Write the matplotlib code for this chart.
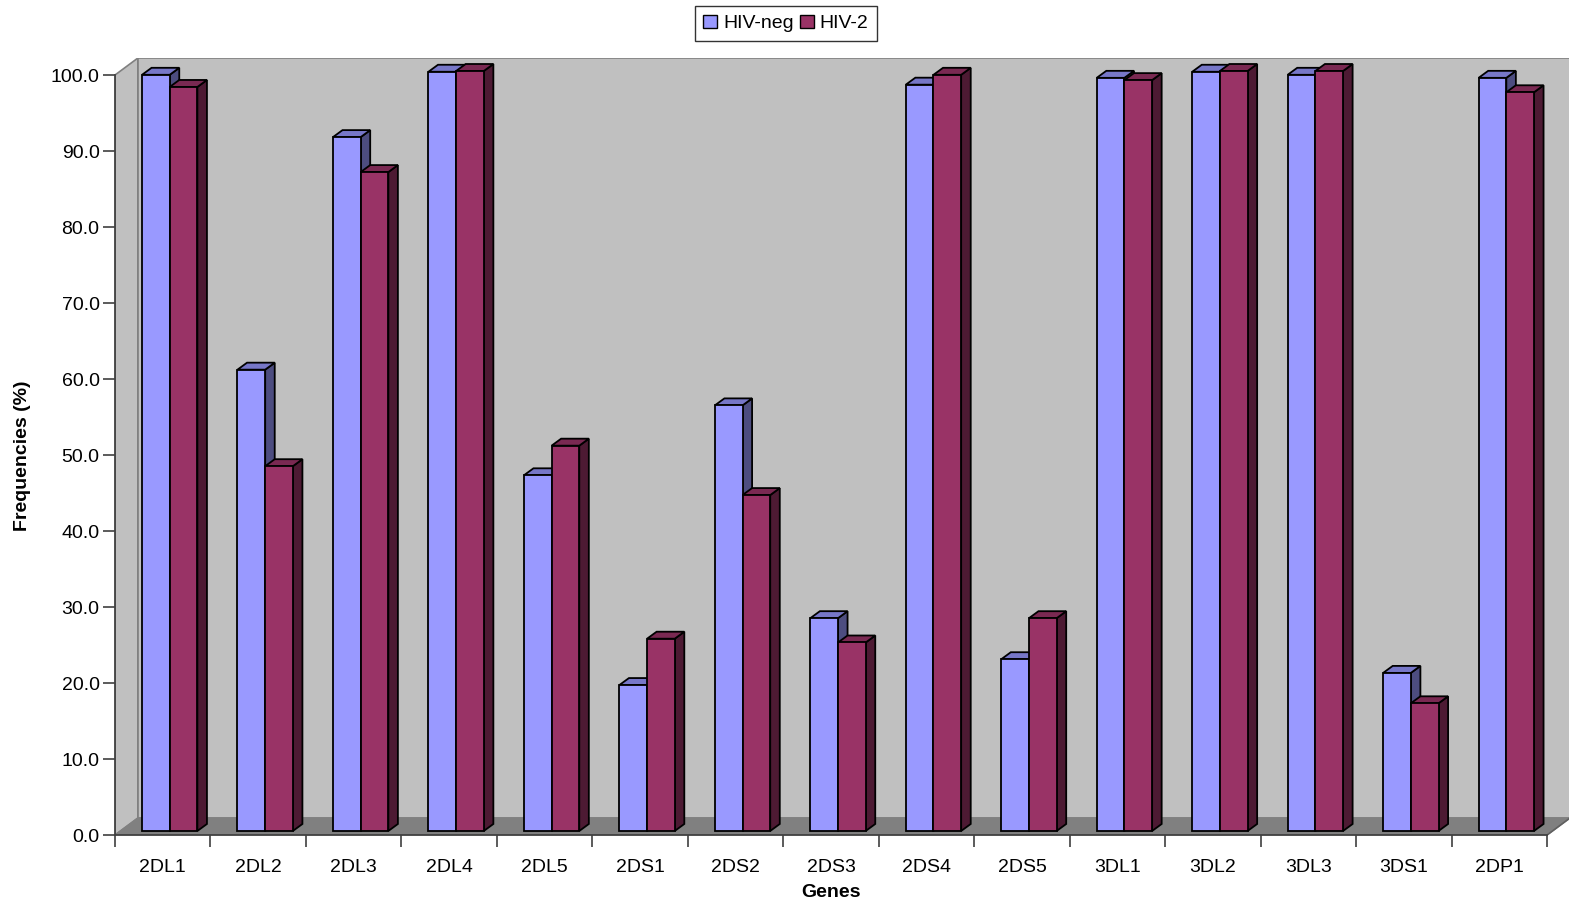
import matplotlib
matplotlib.use("Agg")
import matplotlib.pyplot as plt
from matplotlib.patches import Polygon, Patch
import numpy as np

plt.rcParams['font.family'] = ['Liberation Sans', 'DejaVu Sans']

genes = ['2DL1', '2DL2', '2DL3', '2DL4', '2DL5', '2DS1', '2DS2', '2DS3',
         '2DS4', '2DS5', '3DL1', '3DL2', '3DL3', '3DS1', '2DP1']
hiv_neg = [99.5, 60.7, 91.3, 99.9, 46.8, 19.2, 56.0, 28.0,
           98.2, 22.6, 99.1, 99.9, 99.5, 20.8, 99.1]
hiv_2 = [97.9, 48.0, 86.7, 100.0, 50.7, 25.3, 44.2, 24.8,
         99.5, 28.0, 98.8, 100.0, 100.0, 16.8, 97.2]
series_names = ['HIV-neg', 'HIV-2']

# colours (front, top, side)
BLUE = ('#9999FF', '#7777C8', '#4D4D80')
RED = ('#993366', '#7A2952', '#4D1A33')

# 3d depth of the floor / bars in data units
DX, DY = 0.24, 2.24
BAR_W = 0.29
BAR_X0 = 0.283
BAR_OFF = 0.53          # front face sits a bit behind the front edge
BAR_DX, BAR_DY = 0.10, 0.92
FS = 14

W, H = 1569, 905
fig = plt.figure(figsize=(W / 100, H / 100), dpi=100)
ax = fig.add_axes([115 / W, 70 / H, 1455 / W, 777 / H])
ax.set_xlim(0, len(genes) + DX)
ax.set_ylim(0, 100 + DY)
ax.set_facecolor('none')

n = len(genes)
# walls and floor
ax.add_patch(Polygon([(0, 0), (DX, DY), (DX, 100 + DY), (0, 100)],
                     closed=True, fc='#C0C0C0', ec='#808080', lw=1.2, zorder=1))
ax.add_patch(Polygon([(DX, DY), (n + DX, DY), (n + DX, 100 + DY), (DX, 100 + DY)],
                     closed=True, fc='#C0C0C0', ec='#808080', lw=1.2, zorder=1))
ax.add_patch(Polygon([(0, 0), (n, 0), (n + DX, DY), (DX, DY)],
                     closed=True, fc='#808080', ec='#808080', lw=1.0, zorder=2))
ax.plot([n, n + DX], [0, DY], color='#606060', lw=1.2, zorder=3, clip_on=False)

z = 10
for i in range(n):
    for k, (vals, cols) in enumerate([(hiv_neg, BLUE), (hiv_2, RED)]):
        v = vals[i]
        x0 = i + BAR_X0 + k * BAR_W
        y0 = BAR_OFF
        side = [(x0 + BAR_W, y0), (x0 + BAR_W + BAR_DX, y0 + BAR_DY),
                (x0 + BAR_W + BAR_DX, y0 + v + BAR_DY), (x0 + BAR_W, y0 + v)]
        top = [(x0, y0 + v), (x0 + BAR_W, y0 + v),
               (x0 + BAR_W + BAR_DX, y0 + v + BAR_DY), (x0 + BAR_DX, y0 + v + BAR_DY)]
        ax.add_patch(Polygon(side, closed=True, fc=cols[2], ec='black', lw=1.3, zorder=z))
        ax.add_patch(Polygon(top, closed=True, fc=cols[1], ec='black', lw=1.3, zorder=z + 1))
        ax.bar(x0, v, width=BAR_W, bottom=y0, align='edge', color=cols[0],
               edgecolor='black', linewidth=1.3, zorder=z + 2)
        z += 3

# axes
for s in ['top', 'right']:
    ax.spines[s].set_visible(False)
ax.spines['left'].set_bounds(0, 100)
ax.spines['bottom'].set_bounds(0, n)
for s in ['left', 'bottom']:
    ax.spines[s].set_color('#404040')
    ax.spines[s].set_linewidth(1.3)
    ax.spines[s].set_zorder(200)

ax.set_yticks(np.arange(0, 101, 10))
ax.set_yticklabels(['%.1f' % t for t in np.arange(0, 101, 10)])
ax.tick_params(axis='y', direction='out', length=8.6, width=1.2, color='#404040',
               pad=2.5, labelsize=FS)

ax.set_xticks(np.arange(0, n + 1))
ax.set_xticklabels([])
ax.set_xticks(np.arange(n) + 0.5, minor=True)
ax.set_xticklabels(genes, minor=True)
ax.tick_params(axis='x', which='major', direction='out', length=8.6, width=1.2,
               color='#404040')
ax.tick_params(axis='x', which='minor', length=0, pad=17.5, labelsize=FS)

fig.text(831 / W, 1 - 892 / H, 'Genes', ha='center', va='center',
         fontsize=FS, fontweight='bold')
fig.text(23 / W, 1 - 456 / H, 'Frequencies (%)', ha='center', va='center',
         rotation=90, fontsize=FS, fontweight='bold')

handles = [Patch(fc=BLUE[0], ec='black', lw=1.0), Patch(fc=RED[0], ec='black', lw=1.0)]
leg = fig.legend(handles, series_names, loc='upper center',
                 bbox_to_anchor=(786 / W, 1 - 6 / H), ncol=2, fontsize=FS,
                 frameon=True, fancybox=False, edgecolor='black',
                 handlelength=0.7, handleheight=0.7, handletextpad=0.3,
                 columnspacing=0.35, borderpad=0.45, borderaxespad=0)
leg.get_frame().set_linewidth(1.0)

fig.savefig('out.png', dpi=100)
